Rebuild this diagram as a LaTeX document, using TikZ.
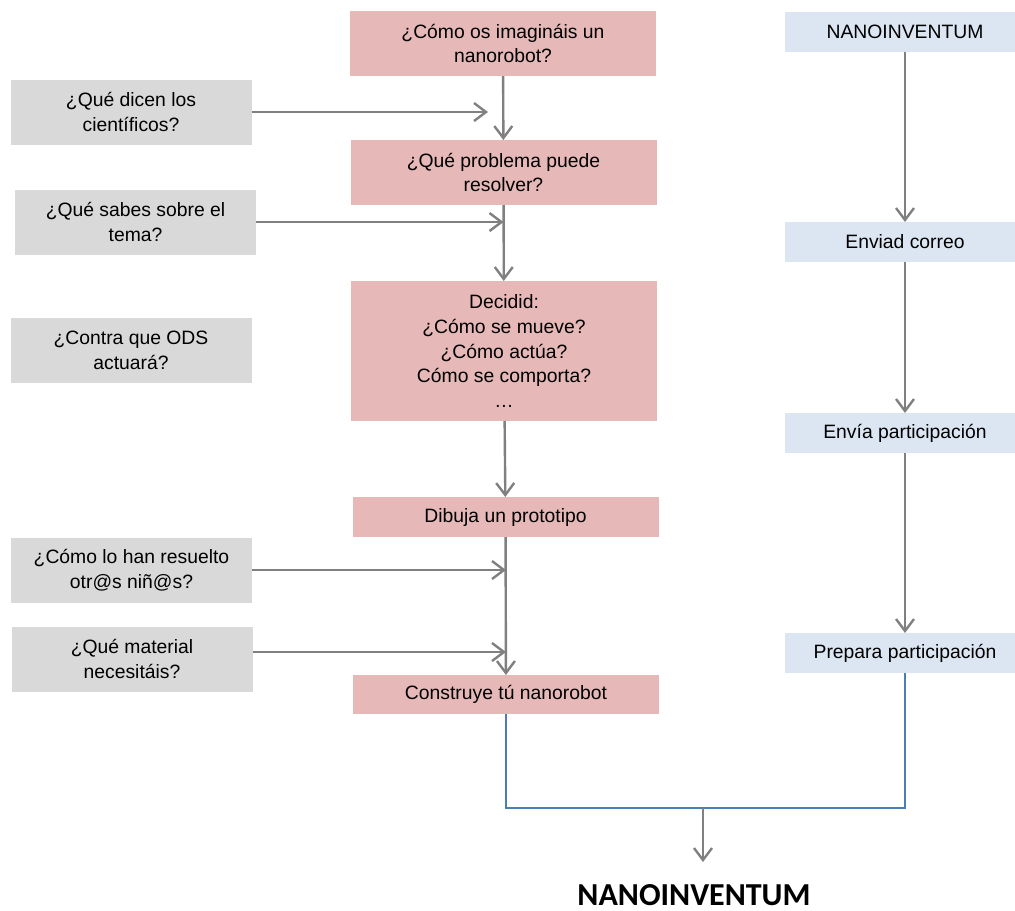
\documentclass[tikz,border=0pt]{standalone}
\usepackage{fontspec}
\setmainfont{Liberation Sans}
\newfontfamily\titulofont{Carlito}
\usetikzlibrary{arrows.meta,calc}
\definecolor{rosa}{RGB}{230,185,184}
\definecolor{gris}{RGB}{217,217,217}
\definecolor{azulclaro}{RGB}{220,230,242}
\definecolor{flechagris}{RGB}{128,128,128}
\definecolor{lineaazul}{RGB}{74,126,187}
\tikzset{
  caja/.style={inner sep=0pt, outer sep=0pt, align=center, font=\fontsize{14.5}{18.5}\selectfont},
  paso/.style={caja, fill=rosa, minimum width=229.5pt},
  pregunta/.style={caja, fill=gris, minimum width=180.75pt, minimum height=48.75pt},
  envio/.style={caja, fill=azulclaro, minimum width=180pt, minimum height=30pt},
  flecha/.style={draw=flechagris, line width=1.8pt, -{Straight Barb[length=9pt,width=13.5pt]}},
  junta/.style={draw=lineaazul, line width=0.8pt},
}

\begin{document}
\begin{tikzpicture}[x=0.75pt,y=0.75pt,yscale=-1]
            \useasboundingbox (0,0) rectangle (1015,911);

            % Pasos (centro)
            \node[paso, minimum height=48.75pt] (p1) at (503,43.5) {¿Cómo os imagináis un\\nanorobot?};
            \node[paso, minimum height=48.75pt] (p2) at (503.5,172.5) {¿Qué problema puede\\resolver?};
            \node[paso, minimum height=105pt] (p3) at (504,351) {Decidid:\\¿Cómo se mueve?\\¿Cómo actúa?\\Cómo se comporta?\\…};
            \node[paso, minimum height=30pt] (p4) at (505.5,517) {Dibuja un prototipo};
            \node[paso, minimum height=29.25pt] (p5) at (506,694.5) {Construye tú nanorobot};

            % Preguntas (izquierda)
            \node[pregunta] (g1) at (131,112) {¿Qué dicen los\\científicos?};
            \node[pregunta] (g2) at (135.5,222) {¿Qué sabes sobre el\\tema?};
            \node[pregunta] (g3) at (131,350.5) {¿Contra que ODS\\actuará?};
            \node[pregunta] (g4) at (131.5,570) {¿Cómo lo han resuelto\\otr@s niñ@s?};
            \node[pregunta] (g5) at (132,659) {¿Qué material\\necesitáis?};

            % Envio (derecha)
            \node[envio] (b1) at (905,32) {NANOINVENTUM};
            \node[envio] (b2) at (905,242) {Enviad correo};
            \node[envio] (b3) at (905,433) {Envía participación};
            \node[envio] (b4) at (905,653) {Prepara participación};

            % Text Node
            \node[inner sep=0pt, font=\titulofont\bfseries\fontsize{24}{28}\selectfont] (titulo) at (694,895) {NANOINVENTUM};

            \coordinate (g1fin) at ($(g1.east -| p1.south)+(-15,0)$);
            \coordinate (g5out) at ($(g5.east)+(0,-7)$);
            \coordinate (union) at (703,808);
            \coordinate (puntaFinal) at (703,862);

            %Straight Lines
            \draw[flecha] (p1) -- (p2);
            \draw[flecha] (p2) -- (p3);
            \draw[flecha] (p3) -- (p4);
            \draw[flecha] (p4) -- (p5);
            \draw[flecha] (g1.east) -- (g1fin);
            \draw[flecha] (g2.east) -- (g2.east -| p2.south);
            \draw[flecha] (g4.east) -- (g4.east -| p5.north);
            \draw[flecha] (g5out) -- (g5out -| p5.north);
            \draw[flecha] (b1) -- (b2);
            \draw[flecha] (b2) -- (b3);
            \draw[flecha] (b3) -- (b4);

            % Union final
            \draw[junta] (p5.south) |- (union) -| (b4.south);
            \draw[flecha] (union) -- (puntaFinal);

        \end{tikzpicture}
\end{document}
